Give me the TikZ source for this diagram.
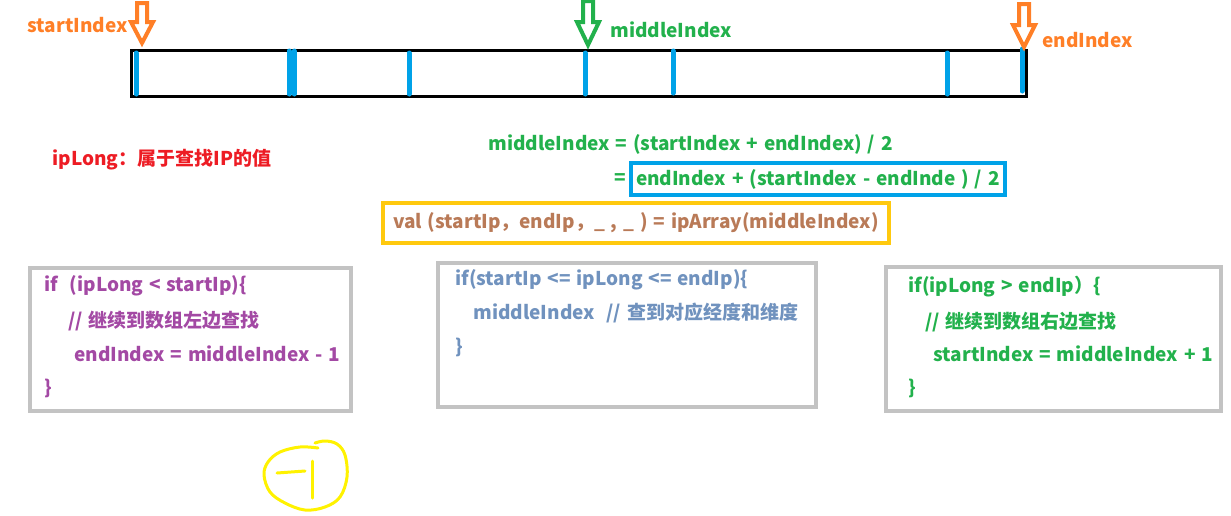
\documentclass[tikz,border=0pt]{standalone}
\usepackage{fontspec}
\setmainfont{Noto Sans CJK SC}[WordSpace=1.35]
\usetikzlibrary{positioning}
\definecolor{tickblue}{RGB}{0,162,232}
\definecolor{markorange}{RGB}{255,127,39}
\definecolor{markgreen}{RGB}{34,177,76}
\definecolor{notered}{RGB}{237,28,36}
\definecolor{valbrown}{RGB}{185,122,87}
\definecolor{boxgold}{RGB}{255,201,14}
\definecolor{framegray}{RGB}{195,195,195}
\definecolor{codepurple}{RGB}{163,73,164}
\definecolor{codeblue}{RGB}{112,146,190}
\definecolor{penyellow}{RGB}{255,242,0}
% hollow down arrow: colour, x, top, start of head, tip
\newcommand\hollowdown[5]{\draw[pointer, draw=#1] (#2-5,#3) -- (#2+5,#3) -- (#2+5,#4) -- (#2+11,#4) -- (#2,#5) -- (#2-11,#4) -- (#2-5,#4) -- cycle;}

\begin{document}
\begin{tikzpicture}[x=0.5pt, y=-0.5pt,
 every node/.style={font=\bfseries\fontsize{9.5}{11}\selectfont, inner sep=0pt, anchor=west},
 tick/.style={draw=tickblue, line width=2.5pt, line cap=round},
 pointer/.style={line width=2pt, line join=miter},
 frame/.style={draw=framegray, line width=2pt},
 halfbox/.style={draw=tickblue, line width=2pt, inner xsep=2.5pt, minimum height=16pt},
 valbox/.style={draw=boxgold, line width=2pt, inner xsep=5pt, minimum width=250pt, minimum height=20pt}]
\useasboundingbox (0,0) rectangle (1231,515);
% the array
\draw[line width=1.5pt] (131,50) rectangle (1026,96);
\draw[tick] (136,53) -- (136,94);
\draw[tick] (289,51) -- (289,94);
\draw[tick] (294,51) -- (294,94);
\draw[tick] (409,53) -- (409,94);
\draw[tick] (585,53) -- (585,94);
\draw[tick] (673,51) -- (673,93);
\draw[tick] (947,53) -- (947,94);
\draw[tick] (1022,49) -- (1022,91);
\hollowdown{markorange}{142}{3}{22}{43}
\hollowdown{markgreen}{588}{1}{22}{45}
\hollowdown{markorange}{1024}{4}{25}{47}
\node[text=markorange] (startlbl) at (27,25) {startIndex};
\node[text=markgreen] (middlelbl) at (610,30) {middleIndex};
\node[text=markorange] (endlbl) at (1042,40) {endIndex};
% formulas
\node[text=notered] (note) at (52,160) {ipLong：属于查找IP的值};
\node[text=markgreen] (formula) at (488,144) {middleIndex = (startIndex + endIndex) / 2};
\node[text=markgreen] (eqsign) at (614,179) {=};
\node[halfbox, text=markgreen] (halfstep) at (629,179) {endIndex + (startIndex - endInde ) / 2};
\node[valbox, text=valbrown] (valline) at (381,223) {val (startIp，endIp，\_ , \_ ) = ipArray(middleIndex)};
% three cases
\draw[frame] (30,268) rectangle (351,411);
\node[text=codepurple] (lt1) at (44,286) {if\ \ (ipLong < startIp)\{};
\node[text=codepurple] (lt2) at (68,321) {// 继续到数组左边查找};
\node[text=codepurple] (lt3) at (74,354) {endIndex = middleIndex - 1};
\node[text=codepurple] (lt4) at (44,388) {\}};
\draw[frame] (438,263) rectangle (816,407);
\node[text=codeblue] (in1) at (455,280) {if(startIp <= ipLong <= endIp)\{};
\node[text=codeblue] (in2) at (473,313) {middleIndex\ \ // 查到对应经度和维度};
\node[text=codeblue] (in3) at (455,347) {\}};
\draw[frame] (886,267) rectangle (1221,411);
\node[text=markgreen] (gt1) at (908,287) {if(ipLong > endIp）\{};
\node[text=markgreen] (gt2) at (925,322) {// 继续到数组右边查找};
\node[text=markgreen] (gt3) at (933,354) {startIndex = middleIndex + 1};
\node[text=markgreen] (gt4) at (908,388) {\}};
% pen mark
\draw[penyellow, line width=1.5pt, line cap=round] plot[smooth, tension=0.6] coordinates {(318,448) (300,447) (280,452) (268,462) (264,475) (270,492) (285,503) (305,510) (325,507) (340,497) (347,477) (345,455) (337,444) (325,441) (315,443)};
\draw[penyellow, line width=1.5pt, line cap=round] (277,473) -- (305,471);
\draw[penyellow, line width=1.5pt, line cap=round] (312,461) -- (312,498);
\end{tikzpicture}
\end{document}
